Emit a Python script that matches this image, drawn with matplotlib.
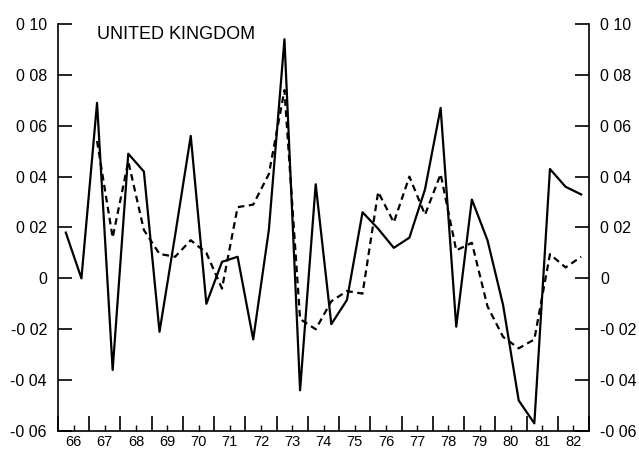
import matplotlib
matplotlib.use('Agg')
import matplotlib.pyplot as plt
import numpy as np

# half-year observations, 1966 H1 .. 1982 H2
years = np.arange(66.25, 83.0, 0.5)

actual = [0.018, 0.000, 0.069, -0.036, 0.049, 0.042, -0.021, 0.017,
          0.056, -0.010, 0.0065, 0.0085, -0.024, 0.019, 0.094, -0.044,
          0.037, -0.018, -0.0085, 0.026, 0.0195, 0.012, 0.016, 0.035,
          0.067, -0.019, 0.031, 0.015, -0.0105, -0.048, -0.057, 0.043,
          0.036, 0.033]

# dashed series starts in 1967 H1
fitted_years = years[2:]
fitted = [0.054, 0.016, 0.046, 0.019, 0.0096, 0.0085, 0.015, 0.010,
          -0.004, 0.028, 0.029, 0.041, 0.074, -0.016, -0.020, -0.009,
          -0.005, -0.006, 0.034, 0.022, 0.040, 0.025, 0.041, 0.011,
          0.014, -0.011, -0.023, -0.0275, -0.024, 0.0095, 0.0043, 0.0085]

year_labels = ['66', '67', '68', '69', '70', '71', '72', '73', '74',
               '75', '76', '77', '78', '79', '80', '81', '82']
ytick_vals = [-0.06, -0.04, -0.02, 0, 0.02, 0.04, 0.06, 0.08, 0.10]
ytick_labels = ['-0 06', '-0 04', '-0 02', '0', '0 02', '0 04', '0 06', '0 08', '0 10']

plt.rcParams['font.family'] = ['Liberation Sans', 'DejaVu Sans']

fig = plt.figure(figsize=(6.39, 4.5), dpi=100)
ax = fig.add_axes([58 / 639, 1 - 431 / 450, 531 / 639, 407 / 450])

ax.plot(years, actual, color='black', linewidth=1.6, linestyle='-')
ax.plot(fitted_years, fitted, color='black', linewidth=1.6, linestyle=(0, (3, 2)))

ax.set_xlim(66, 83)
ax.set_ylim(-0.06, 0.10)

# long ticks on year boundaries, short labelled ticks mid-year
ax.set_xticks(np.arange(66, 84, 1))
ax.set_xticklabels([])
ax.set_xticks(np.arange(66.5, 83, 1), minor=True)
ax.set_xticklabels(year_labels, minor=True)
ax.tick_params(axis='x', which='major', direction='in', length=11, width=1.2)
ax.tick_params(axis='x', which='minor', direction='in', length=4, width=1.0,
               labelsize=10.5, pad=3)

ax.set_yticks(ytick_vals)
ax.set_yticklabels(ytick_labels)
ax.tick_params(axis='y', which='major', direction='in', length=10, width=1.2,
               left=True, right=True, labelleft=True, labelright=True,
               labelsize=11.5, pad=8)

ax.spines['top'].set_visible(False)
for side in ['left', 'right', 'bottom']:
    ax.spines[side].set_linewidth(1.2)

ax.text(0.073, 0.995, 'UNITED KINGDOM', transform=ax.transAxes,
        ha='left', va='top', fontsize=13)

fig.savefig('out.png', dpi=100)
